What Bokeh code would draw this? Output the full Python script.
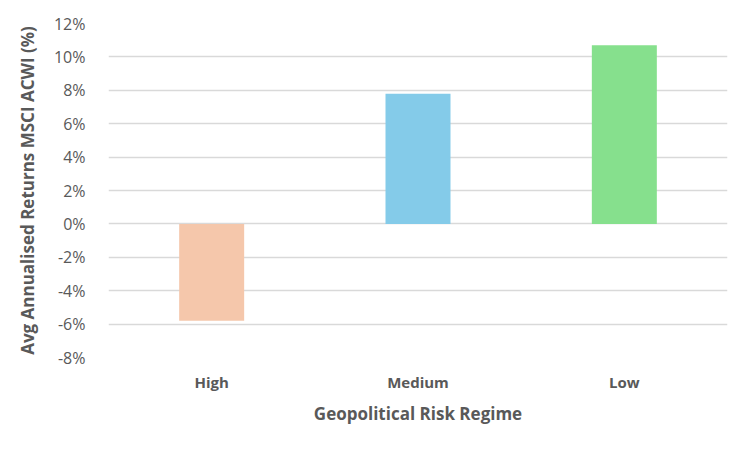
from bokeh.plotting import figure
from bokeh.models import ColumnDataSource, NumeralTickFormatter, FixedTicker, Range1d
from bokeh.embed import file_html
from bokeh.resources import INLINE

categories = ["High", "Medium", "Low"]
returns = [-0.058, 0.078, 0.107]
colors = ["#F5C7AB", "#84CBE9", "#86E08D"]
y_ticks = [-0.08, -0.06, -0.04, -0.02, 0.0, 0.02, 0.04, 0.06, 0.08, 0.10, 0.12]

source = ColumnDataSource(dict(cat=categories, val=returns, color=colors))

p = figure(x_range=categories, y_range=Range1d(-0.08, 0.12), width=734, height=434,
           output_backend="svg", toolbar_location=None,
           min_border_left=108, min_border_top=23, min_border_bottom=77, min_border_right=7)

p.vbar(x="cat", top="val", bottom=0, width=0.315, color="color", source=source, line_color=None)

p.outline_line_color = None
p.xgrid.grid_line_color = None
p.ygrid.grid_line_color = "#D9D9D9"
p.ygrid.grid_line_width = 1.5
p.yaxis.ticker = FixedTicker(ticks=y_ticks)
p.yaxis.formatter = NumeralTickFormatter(format="0%")

for ax in (p.xaxis, p.yaxis):
    ax.axis_line_color = None
    ax.major_tick_line_color = None
    ax.minor_tick_line_color = None
    ax.major_label_text_color = "#595959"
    ax.axis_label_text_color = "#595959"
    ax.axis_label_text_font = "Open Sans"
    ax.major_label_text_font = "Open Sans"
    ax.axis_label_text_font_style = "bold"
    ax.axis_label_text_font_size = "17px"

p.yaxis.major_label_text_font_size = "16px"
p.yaxis.major_label_standoff = 17
p.yaxis.axis_label = "Avg Annualised Returns MSCI ACWI (%)"
p.yaxis.axis_label_standoff = 12

p.xaxis.major_label_text_font_size = "15px"
p.xaxis.major_label_text_font_style = "bold"
p.xaxis.major_label_standoff = 8
p.xaxis.axis_label = "Geopolitical Risk Regime"
p.xaxis.axis_label_standoff = 7

open("out.html", "w").write(file_html(p, INLINE))
